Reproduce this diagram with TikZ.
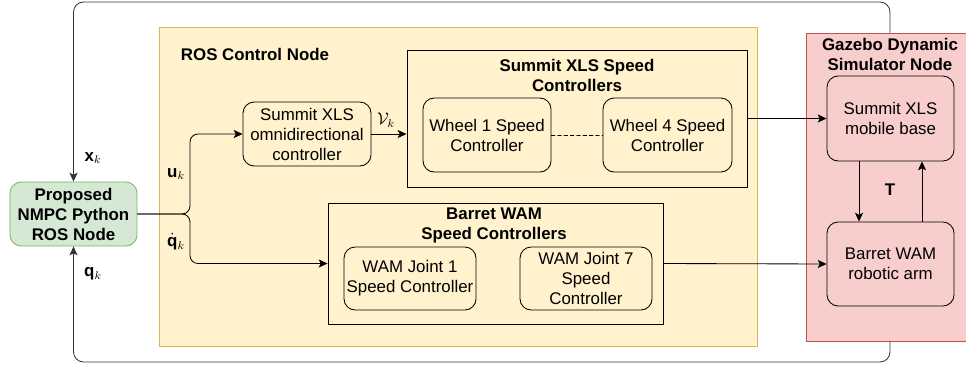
\documentclass[tikz,border=0pt]{standalone}
\usepackage{amsmath,amssymb}
\usepackage{fontspec}
\setmainfont{Liberation Sans}
\usepackage{xcolor}
\usepackage{tikz}
\usetikzlibrary{arrows.meta,calc,positioning}
\definecolor{ylwfill}{HTML}{FFF2CC}
\definecolor{ylwline}{HTML}{D6B656}
\definecolor{grnfill}{HTML}{D5E8D4}
\definecolor{grnline}{HTML}{82B366}
\definecolor{redfill}{HTML}{F8CECC}
\definecolor{redline}{HTML}{B85450}
\tikzset{
  blk/.style={draw, rounded corners=2.8mm, align=center, inner sep=1pt, line width=0.6pt},
  grp/.style={draw, inner sep=0pt, line width=0.6pt},
  ttl/.style={font=\fontsize{12}{14.2}\selectfont\bfseries, align=center, inner sep=0pt},
  arr/.style={-{Stealth[length=2.2mm,width=2mm,inset=0.5mm]}, line width=0.6pt},
  lbl/.style={inner sep=0pt, font=\large},
  every picture/.style={line cap=round, line join=round}
}

\begin{document}
\begin{tikzpicture}[x=0.025cm, y=-0.025cm, font=\fontsize{12}{14.2}\selectfont]
  \useasboundingbox (0,0) rectangle (966,364);

  % containers
  \node[grp, fill=ylwfill, draw=ylwline, minimum width=14.95cm, minimum height=7.975cm] (ros) at (458,186.5) {};
  \node[ttl] (rosttl) at (255,54) {ROS Control Node};
  \node[grp, fill=redfill, draw=redline, minimum width=4.2cm, minimum height=7.7cm] (gz) at (890,187) {};
  \node[ttl] (gzttl) at (890,54.5) {Gazebo Dynamic\\Simulator Node};
  \node[grp, minimum width=8.5cm, minimum height=3.425cm] (sxls) at (577,118.5) {};
  \node[ttl] (sxlsttl) at (577,75) {Summit XLS Speed\\Controllers};
  \node[grp, minimum width=8.375cm, minimum height=3.025cm] (bwam) at (495.5,263.5) {};
  \node[ttl] (bwamttl) at (494,225.5) {Barret WAM\\Speed Controllers};

  % blocks
  \node[blk, fill=grnfill, draw=grnline, font=\fontsize{12}{14.2}\selectfont\bfseries,
        minimum width=3.175cm, minimum height=1.6cm] (nmpc) at (73.5,214) {Proposed\\NMPC Python\\ROS Node};
  \node[blk, minimum width=3.2cm, minimum height=1.6cm] (omni) at (307,134) {Summit XLS\\omnidirectional\\controller};
  \node[blk, minimum width=3.2cm, minimum height=1.85cm] (w1) at (487,135) {Wheel 1 Speed\\Controller};
  \node[blk, minimum width=3.225cm, minimum height=1.85cm] (w4) at (667.5,135) {Wheel 4 Speed\\Controller};
  \node[blk, minimum width=3.3cm, minimum height=1.575cm] (j1) at (410,278.5) {WAM Joint 1\\Speed Controller};
  \node[blk, minimum width=3.3cm, minimum height=1.575cm] (j7) at (586,278.5) {WAM Joint 7\\Speed\\Controller};
  \node[blk, minimum width=3.175cm, minimum height=2.125cm] (base) at (890.5,118.5) {Summit XLS\\mobile base};
  \node[blk, minimum width=3.175cm, minimum height=2.1cm] (arm) at (890.5,264) {Barret WAM\\robotic arm};

  % connectors
  \coordinate (split) at (190,214);
  \draw[arr, rounded corners=2mm] (nmpc.east) -- (split) |- (omni.west);
  \draw[arr, rounded corners=2mm] (nmpc.east) -- (split) |- (bwam.west);
  \draw[arr] (omni.east) -- (omni.east -| sxls.west);
  \draw[line width=0.6pt, dash pattern=on 2.5pt off 2pt] (w1.east) -- (w4.west);
  \draw[arr] (sxls.east) -- (base.west);
  \draw[arr] (bwam.east) -- (arm.west);
  \draw[arr] ($(base.south)+(-31.5,0)$) -- ($(arm.north)+(-31.5,0)$);
  \draw[arr] ($(arm.north)+(31.5,0)$) -- ($(base.south)+(31.5,0)$);
  \draw[arr, draw=black!80, rounded corners=2.5mm] (gz.north) -- (890,2) -| (nmpc.north);
  \draw[arr, draw=black!80, rounded corners=2.5mm] (gz.south) -- (890,362) -| (nmpc.south);

  % labels
  \node[lbl] (xk) at (93,158) {$\mathbf{x}_k$};
  \node[lbl] (qk) at (93,274) {$\mathbf{q}_k$};
  \node[lbl] (uk) at (176,174) {$\mathbf{u}_k$};
  \node[lbl] (qdk) at (176,242) {$\dot{\mathbf{q}}_k$};
  \node[lbl] (vk) at (386,120) {$\mathcal{V}_k$};
  \node[lbl] (tl) at (890,190) {$\mathbf{T}$};
\end{tikzpicture}
\end{document}
